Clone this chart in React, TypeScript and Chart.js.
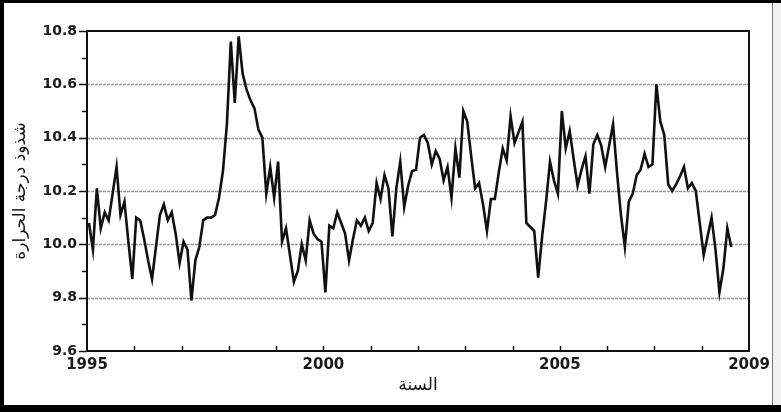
import { useEffect, useRef } from 'react';
import { Chart, registerables } from 'chart.js';

Chart.register(...registerables);

// ---- data (monthly, Jan 1995 .. Aug 2008) ----
const START_YEAR = 1995;
const monthlyAnomaly = [
  10.08, 9.98, 10.21, 10.06, 10.12, 10.09, 10.19, 10.29, 10.11, 10.16, 10.01, 9.87,
  10.10, 10.09, 10.02, 9.94, 9.87, 9.99, 10.11, 10.15, 10.09, 10.12, 10.04, 9.93,
  10.01, 9.98, 9.79, 9.94, 9.99, 10.09, 10.10, 10.10, 10.11, 10.175, 10.275, 10.45,
  10.76, 10.53, 10.78, 10.64, 10.58, 10.54, 10.51, 10.43, 10.40, 10.19, 10.29, 10.175,
  10.31, 10.01, 10.06, 9.96, 9.86, 9.90, 10.00, 9.94, 10.09, 10.04, 10.02, 10.01,
  9.82, 10.07, 10.06, 10.12, 10.08, 10.04, 9.94, 10.02, 10.09, 10.07, 10.10, 10.05,
  10.08, 10.23, 10.17, 10.26, 10.21, 10.03, 10.21, 10.31, 10.14, 10.22, 10.275, 10.28,
  10.40, 10.41, 10.38, 10.30, 10.35, 10.32, 10.24, 10.29, 10.175, 10.36, 10.25, 10.50,
  10.46, 10.33, 10.21, 10.23, 10.15, 10.05, 10.17, 10.17, 10.27, 10.36, 10.315, 10.48,
  10.38, 10.42, 10.46, 10.08, 10.065, 10.05, 9.875, 10.03, 10.16, 10.31, 10.24, 10.19,
  10.50, 10.36, 10.425, 10.32, 10.22, 10.28, 10.33, 10.19, 10.375, 10.41, 10.37, 10.29,
  10.37, 10.45, 10.27, 10.11, 9.99, 10.16, 10.19, 10.26, 10.28, 10.34, 10.29, 10.30,
  10.60, 10.46, 10.41, 10.225, 10.20, 10.225, 10.255, 10.29, 10.21, 10.23, 10.20, 10.08,
  9.96, 10.03, 10.10, 9.98, 9.82, 9.91, 10.06, 9.99,
];
const xTickLabels = [1995, 2000, 2005, 2009];
const yTickLabels = [9.6, 9.8, 10.0, 10.2, 10.4, 10.6, 10.8];
const xTitle = 'السنة';
const yTitle = 'شذوذ درجة الحرارة';

const X_MIN = 1995;
const X_MAX = 2009;
const Y_MIN = 9.6;
const Y_MAX = 10.8;

const isMajorY = (v: number) => yTickLabels.some((t) => Math.abs(t - v) < 1e-6);

const decorPlugin = {
  id: 'decor',
  beforeDraw(chart: any) {
    const ctx = chart.ctx;
    ctx.save();
    ctx.fillStyle = '#ffffff';
    ctx.fillRect(0, 0, chart.width, chart.height);
    ctx.restore();
  },
  beforeDatasetsDraw(chart: any) {
    const { ctx, chartArea, scales } = chart;
    const y = scales.y;
    ctx.save();
    ctx.strokeStyle = '#9a9a9a';
    ctx.lineWidth = 1.6;
    ctx.setLineDash([3, 1]);
    yTickLabels.forEach((v) => {
      if (v <= Y_MIN + 1e-6 || v >= Y_MAX - 1e-6) return;
      const py = Math.round(y.getPixelForValue(v)) + 0.5;
      ctx.beginPath();
      ctx.moveTo(chartArea.left, py);
      ctx.lineTo(chartArea.right, py);
      ctx.stroke();
    });
    ctx.restore();
  },
  afterDatasetsDraw(chart: any) {
    const { ctx, chartArea, scales } = chart;
    const x = scales.x;
    const y = scales.y;
    ctx.save();
    ctx.strokeStyle = '#111';
    ctx.lineWidth = 2;
    ctx.setLineDash([]);
    ctx.strokeRect(chartArea.left, chartArea.top, chartArea.right - chartArea.left, chartArea.bottom - chartArea.top);
    // inward year ticks on x axis
    ctx.lineWidth = 1.5;
    for (let yr = X_MIN + 1; yr < X_MAX; yr++) {
      const px = Math.round(x.getPixelForValue(yr)) + 0.5;
      ctx.beginPath();
      ctx.moveTo(px, chartArea.bottom);
      ctx.lineTo(px, chartArea.bottom - 5);
      ctx.stroke();
    }
    // outward ticks on y axis
    for (let k = 0; k <= 12; k++) {
      const v = Y_MIN + k * 0.1;
      const py = Math.round(y.getPixelForValue(v)) + 0.5;
      const len = isMajorY(Math.round(v * 10) / 10) ? 8 : 5;
      ctx.beginPath();
      ctx.moveTo(chartArea.left, py);
      ctx.lineTo(chartArea.left - len, py);
      ctx.stroke();
    }
    ctx.restore();
  },
  afterDraw(chart: any) {
    const ctx = chart.ctx;
    const w = chart.width;
    const h = chart.height;
    ctx.save();
    ctx.fillStyle = '#f1f1f1';
    ctx.fillRect(773, 0, w - 773, h);
    ctx.fillStyle = '#777';
    ctx.fillRect(772, 0, 1, h);
    ctx.fillStyle = '#000';
    ctx.fillRect(0, 0, w, 3);
    ctx.fillRect(0, 0, 4, h);
    ctx.fillRect(0, h - 7, w, 7);
    ctx.restore();
  },
};

export default function App() {
  const canvasRef = useRef<HTMLCanvasElement | null>(null);

  useEffect(() => {
    const canvas = canvasRef.current;
    if (!canvas) return;
    const points = monthlyAnomaly.map((v, i) => ({ x: START_YEAR + (i + 0.5) / 12, y: v }));
    const chart = new Chart(canvas, {
      type: 'line',
      data: {
        datasets: [
          {
            data: points,
            borderColor: '#111',
            borderWidth: 2.6,
            pointRadius: 0,
            tension: 0,
            fill: false,
          },
        ],
      },
      options: {
        responsive: false,
        animation: false,
        layout: { padding: { left: 5, top: 31, right: 32, bottom: 0 } },
        plugins: {
          legend: { display: false },
          tooltip: { enabled: false },
        },
        scales: {
          x: {
            type: 'linear',
            min: X_MIN,
            max: X_MAX,
            afterFit: (s: any) => {
              s.height = 61;
            },
            afterBuildTicks: (s: any) => {
              const t = [];
              for (let yr = X_MIN; yr <= X_MAX; yr++) t.push({ value: yr });
              s.ticks = t;
            },
            ticks: {
              autoSkip: false,
              maxRotation: 0,
              padding: 5,
              color: '#1a1a1a',
              font: { family: "'DejaVu Sans', sans-serif", size: 15, weight: 'bold' },
              callback: (v: any) => (xTickLabels.includes(Number(v)) ? String(v) : ''),
            },
            grid: { display: false, drawTicks: false },
            border: { display: false },
            title: {
              display: true,
              text: xTitle,
              color: '#111',
              font: { family: "'DejaVu Sans', sans-serif", size: 17 },
              padding: { top: 0, bottom: 16 },
            },
          },
          y: {
            type: 'linear',
            min: Y_MIN,
            max: Y_MAX,
            afterFit: (s: any) => {
              s.width = 82;
            },
            afterBuildTicks: (s: any) => {
              s.ticks = yTickLabels.map((v) => ({ value: v }));
            },
            ticks: {
              padding: 10,
              color: '#1a1a1a',
              font: { family: "'DejaVu Sans', sans-serif", size: 14, weight: 'bold' },
              callback: (v: any) => Number(v).toFixed(1),
            },
            grid: { display: false, drawTicks: false },
            border: { display: false },
            title: {
              display: true,
              text: yTitle,
              color: '#111',
              font: { family: "'DejaVu Sans', sans-serif", size: 17 },
              padding: { top: 5, bottom: 0 },
            },
          },
        },
      },
      plugins: [decorPlugin],
    });
    return () => chart.destroy();
  }, []);

  return (
    <div style={{ position: 'fixed', left: 0, top: 0, width: 781, height: 412, background: '#fff' }}>
      <canvas ref={canvasRef} width={781} height={412} style={{ display: 'block', width: 781, height: 412 }} />
    </div>
  );
}
